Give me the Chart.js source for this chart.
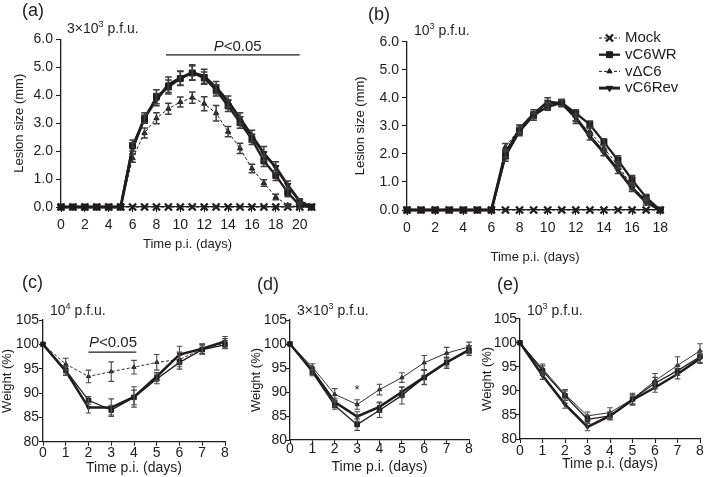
<!DOCTYPE html>
<html>
<head>
<meta charset="utf-8">
<script src="https://cdn.jsdelivr.net/npm/chart.js@4.4.1/dist/chart.umd.min.js"></script>
<style>
  body { margin: 0; background: #fff; }
  #fig { position: relative; width: 708px; height: 477px; font-family: 'Liberation Sans', Arial, sans-serif; color: #231f20; }
  canvas { position: absolute; }
  .lbl { position: absolute; font-size: 18px; line-height: 1; }
  .dose { position: absolute; font-size: 14px; line-height: 1; white-space: nowrap; }
  .dose sup { font-size: 9px; vertical-align: 6px; line-height: 0; }
</style>
</head>
<body>
<div id="fig">
  <canvas id="chartA" width="345" height="262" style="left:0;top:0"></canvas>
  <canvas id="chartB" width="363" height="265" style="left:345px;top:0"></canvas>
  <canvas id="chartC" width="240" height="212" style="left:0;top:265px"></canvas>
  <canvas id="chartD" width="235" height="212" style="left:240px;top:265px"></canvas>
  <canvas id="chartE" width="233" height="212" style="left:475px;top:265px"></canvas>

  <div class="lbl" style="left:22px;top:1px">(a)</div>
  <div class="lbl" style="left:368px;top:5px">(b)</div>
  <div class="lbl" style="left:22px;top:273px">(c)</div>
  <div class="lbl" style="left:257px;top:275px">(d)</div>
  <div class="lbl" style="left:497px;top:275px">(e)</div>

  <div class="dose" style="left:67px;top:21px">3×10<sup>3</sup> p.f.u.</div>
  <div class="dose" style="left:414px;top:23px">10<sup>3</sup> p.f.u.</div>
  <div class="dose" style="left:50px;top:303px">10<sup>4</sup> p.f.u.</div>
  <div class="dose" style="left:297px;top:303px">3×10<sup>3</sup> p.f.u.</div>
  <div class="dose" style="left:527px;top:303px">10<sup>3</sup> p.f.u.</div>
</div>

<script>
// (a) lesion size, 3x10^3 p.f.u.
const daysA = [0, 1, 2, 3, 4, 5, 6, 7, 8, 9, 10, 11, 12, 13, 14, 15, 16, 17, 18, 19, 20, 21]
const mockA = [0, 0, 0, 0, 0, 0, 0, 0, 0, 0, 0, 0, 0, 0, 0, 0, 0, 0, 0, 0, 0, 0]
const wrA = [0, 0, 0, 0, 0, 0, 2.2, 3.15, 3.95, 4.3, 4.6, 4.8, 4.62, 4.18, 3.62, 3.02, 2.42, 1.65, 1.13, 0.52, 0.06, 0]
const dc6A = [0, 0, 0, 0, 0, 0, 1.75, 2.65, 3.18, 3.52, 3.76, 3.92, 3.7, 3.36, 2.7, 2.1, 1.38, 0.86, 0.36, 0.06, 0, 0]
const revA = [0, 0, 0, 0, 0, 0, 2.1, 3.2, 3.85, 4.38, 4.62, 4.82, 4.68, 4.28, 3.78, 3.18, 2.55, 1.92, 1.42, 0.78, 0.2, 0]
const wrAErr = [0, 0, 0, 0, 0, 0, 0.2, 0.15, 0.25, 0.25, 0.25, 0.25, 0.22, 0.2, 0.2, 0.2, 0.18, 0.2, 0.18, 0.15, 0.1, 0]
const dc6AErr = [0, 0, 0, 0, 0, 0, 0.15, 0.18, 0.2, 0.2, 0.18, 0.2, 0.25, 0.28, 0.18, 0.18, 0.15, 0.12, 0.1, 0.05, 0, 0]
const revAErr = [0, 0, 0, 0, 0, 0, 0.2, 0.18, 0.22, 0.28, 0.25, 0.28, 0.25, 0.22, 0.2, 0.2, 0.2, 0.25, 0.2, 0.15, 0.1, 0]
const xTicksA = [0, 2, 4, 6, 8, 10, 12, 14, 16, 18, 20]

// (b) lesion size, 10^3 p.f.u.
const daysB = [0, 1, 2, 3, 4, 5, 6, 7, 8, 9, 10, 11, 12, 13, 14, 15, 16, 17, 18]
const mockB = [0, 0, 0, 0, 0, 0, 0, 0, 0, 0, 0, 0, 0, 0, 0, 0, 0, 0, 0]
const wrB = [0, 0, 0, 0, 0, 0, 0, 1.92, 2.8, 3.38, 3.68, 3.82, 3.45, 3.05, 2.42, 1.78, 1.08, 0.45, 0]
const dc6B = [0, 0, 0, 0, 0, 0, 0, 2.25, 2.9, 3.32, 3.72, 3.82, 3.2, 2.8, 2.2, 1.6, 0.85, 0.35, 0]
const revB = [0, 0, 0, 0, 0, 0, 0, 2.02, 2.88, 3.42, 3.85, 3.8, 3.3, 2.62, 2.05, 1.42, 0.78, 0.28, 0]
const wrBErr = [0, 0, 0, 0, 0, 0, 0, 0.18, 0.15, 0.12, 0.12, 0.12, 0.12, 0.12, 0.12, 0.15, 0.15, 0.1, 0]
const dc6BErr = [0, 0, 0, 0, 0, 0, 0, 0.12, 0.12, 0.12, 0.12, 0.12, 0.12, 0.12, 0.12, 0.12, 0.12, 0.1, 0]
const revBErr = [0, 0, 0, 0, 0, 0, 0, 0.15, 0.15, 0.15, 0.15, 0.12, 0.12, 0.12, 0.12, 0.12, 0.12, 0.1, 0]
const xTicksB = [0, 2, 4, 6, 8, 10, 12, 14, 16, 18]
const lesionTicks = [0, 1, 2, 3, 4, 5, 6]

// (c)-(e) weight
const daysW = [0, 1, 2, 3, 4, 5, 6, 7, 8]
const weightTicks = [80, 85, 90, 95, 100, 105]

const wrC = [100, 94.7, 88.5, 86.5, 89.1, 92.9, 96.3, 98.9, 99.9]
const dc6C = [100, 95.95, 93.4, 94.4, 95.3, 96.3, 96.9, 99.0, 100.2]
const revC = [100, 94.5, 87.0, 87.0, 89.2, 93.4, 97.9, 99.1, 100.6]
const wrCErr = [0, 0.8, 0.8, 1.0, 1.5, 1.0, 1.4, 0.8, 0.8]
const dc6CErr = [0, 1.2, 1.3, 2.0, 1.4, 1.6, 1.5, 1.0, 1.0]
const revCErr = [0, 0.9, 1.1, 1.8, 2.1, 0.8, 1.7, 1.0, 1.0]

const wrD = [100, 94.1, 87.2, 83.2, 86.2, 89.3, 93.0, 96.1, 98.6]
const dc6D = [100, 95.2, 89.5, 87.4, 90.5, 93.0, 96.1, 98.1, 99.4]
const revD = [100, 94.5, 87.9, 84.9, 86.9, 90.0, 93.1, 96.2, 98.8]
const wrDErr = [0, 0.7, 0.8, 1.2, 1.5, 1.8, 1.5, 1.2, 1.0]
const dc6DErr = [0, 0.7, 1.2, 1.0, 1.1, 1.0, 1.5, 1.2, 1.0]
const revDErr = [0, 0.7, 0.8, 1.0, 1.0, 1.0, 1.5, 1.0, 0.8]

const wrE = [100, 94.2, 89.0, 84.1, 84.8, 88.3, 91.6, 94.2, 97.1]
const dc6E = [100, 94.6, 89.3, 84.8, 85.5, 88.3, 92.1, 95.3, 98.3]
const revE = [100, 93.2, 87.2, 82.5, 84.8, 88.1, 90.7, 93.5, 96.7]
const wrEErr = [0, 1.0, 1.0, 0.8, 0.8, 1.0, 1.2, 1.0, 1.2]
const dc6EErr = [0, 1.0, 1.0, 0.8, 1.0, 1.2, 1.5, 1.8, 1.5]
const revEErr = [0, 0.8, 0.8, 0.8, 0.8, 1.0, 1.0, 1.0, 1.0]

const FONT = "'Liberation Sans', Arial, sans-serif"
const INK = '#1e1c1d'

// error bars drawn from each dataset's `errors` array
const errorBars = {
  id: 'errorBars',
  afterDatasetsDraw(chart, args, opts) {
    const { ctx, scales: { x, y } } = chart
    ctx.save()
    ctx.strokeStyle = opts.color
    ctx.lineWidth = opts.width
    chart.data.datasets.forEach(ds => {
      if (!ds.errors) return
      ds.data.forEach((p, i) => {
        const e = ds.errors[i]
        if (!e) return
        const px = x.getPixelForValue(p.x)
        const top = y.getPixelForValue(p.y + e)
        const bot = y.getPixelForValue(p.y - e)
        ctx.beginPath()
        ctx.moveTo(px, top)
        ctx.lineTo(px, bot)
        ctx.moveTo(px - opts.cap, top)
        ctx.lineTo(px + opts.cap, top)
        ctx.moveTo(px - opts.cap, bot)
        ctx.lineTo(px + opts.cap, bot)
        ctx.stroke()
      })
    })
    ctx.restore()
  },
}

// P<0.05 bars and asterisks
const sigMarks = {
  id: 'sigMarks',
  afterDraw(chart, args, opts) {
    const { ctx, scales: { x, y } } = chart
    ctx.save()
    ctx.fillStyle = INK
    ctx.strokeStyle = INK
    if (opts.bar) {
      const b = opts.bar
      ctx.lineWidth = 1.1
      ctx.beginPath()
      ctx.moveTo(x.getPixelForValue(b.from), y.getPixelForValue(b.y))
      ctx.lineTo(x.getPixelForValue(b.to), y.getPixelForValue(b.y))
      ctx.stroke()
      ctx.textBaseline = 'middle'
      ctx.font = `italic 15px ${FONT}`
      const wP = ctx.measureText('P').width
      ctx.font = `15px ${FONT}`
      const wR = ctx.measureText('<0.05').width
      const left = x.getPixelForValue(b.textX) - (wP + wR) / 2
      const ty = y.getPixelForValue(b.textY)
      ctx.font = `italic 15px ${FONT}`
      ctx.fillText('P', left, ty)
      ctx.font = `15px ${FONT}`
      ctx.fillText('<0.05', left + wP, ty)
    }
    if (opts.star) {
      ctx.font = `13px ${FONT}`
      ctx.textAlign = 'center'
      ctx.textBaseline = 'middle'
      ctx.fillText('*', x.getPixelForValue(opts.star.x), y.getPixelForValue(opts.star.y))
    }
    ctx.restore()
  },
}

Chart.register(errorBars, sigMarks)

// legend of panel (b)
const legendB = {
  id: 'legendB',
  afterDraw(chart) {
    const { ctx } = chart
    ctx.save()
    ctx.font = `15px ${FONT}`
    ctx.textBaseline = 'middle'
    chart.data.datasets.forEach((ds, i) => {
      const y = 38 + i * 16.7
      const x0 = 254
      const x1 = 275
      ctx.strokeStyle = INK
      ctx.fillStyle = INK
      ctx.lineWidth = ds.borderWidth
      ctx.setLineDash(ds.borderDash || [])
      ctx.beginPath()
      ctx.moveTo(x0, y)
      ctx.lineTo(x1, y)
      ctx.stroke()
      ctx.setLineDash([])
      ctx.lineWidth = ds.pointBorderWidth || 1
      Chart.helpers.drawPoint(ctx, {
        pointStyle: ds.pointStyle,
        radius: ds.pointRadius,
        rotation: ds.pointRotation || 0,
        borderWidth: ds.pointBorderWidth || 1,
      }, (x0 + x1) / 2, y)
      ctx.fillText(ds.label, 280, y)
    })
    ctx.restore()
  },
}

function toPoints(xs, ys) {
  return xs.map((x, i) => ({ x, y: ys[i] }))
}

function series(label, xs, ys, errors, style) {
  return Object.assign({
    label,
    data: toPoints(xs, ys),
    errors,
    borderColor: INK,
    backgroundColor: INK,
    pointBackgroundColor: INK,
    pointBorderColor: INK,
    tension: 0,
    fill: false,
    clip: false,
  }, style)
}

const lesionStyle = {
  mock: { borderWidth: 1, borderDash: [3, 2], pointStyle: 'crossRot', pointRadius: 5, pointBorderWidth: 2.3 },
  wr: { borderWidth: 2.3, pointStyle: 'rect', pointRadius: 4.2, pointBorderWidth: 1 },
  dc6: { borderWidth: 1, borderDash: [3, 2], pointStyle: 'triangle', pointRadius: 3, pointBorderWidth: 1 },
  rev: { borderWidth: 2.9, pointStyle: 'triangle', pointRotation: 180, pointRadius: 3.6, pointBorderWidth: 1 },
}

function weightStyle(dash) {
  return {
    wr: { borderWidth: 1.3, pointStyle: 'rect', pointRadius: 3.2, pointBorderWidth: 1 },
    dc6: { borderWidth: 0.9, borderDash: dash, pointStyle: 'triangle', pointRadius: 2.4, pointBorderWidth: 1 },
    rev: { borderWidth: 2.5, pointStyle: 'triangle', pointRotation: 180, pointRadius: 2.6, pointBorderWidth: 1 },
  }
}

function fixSize(size, horizontal) {
  return scale => {
    if (horizontal) scale.height = size
    else scale.width = size
    scale.paddingLeft = 0
    scale.paddingRight = 0
    scale.paddingTop = 0
    scale.paddingBottom = 0
  }
}

function makeChart(id, p) {
  return new Chart(document.getElementById(id), {
    type: 'line',
    data: { datasets: p.datasets },
    options: {
      responsive: false,
      animation: false,
      events: [],
      layout: { padding: p.pad },
      plugins: {
        legend: { display: false },
        tooltip: { enabled: false },
        errorBars: p.err,
        sigMarks: p.sig || {},
      },
      scales: {
        x: {
          type: 'linear',
          min: 0,
          max: p.xMax,
          afterBuildTicks: s => { s.ticks = p.xTicks.map(v => ({ value: v })) },
          afterFit: fixSize(p.xH, true),
          grid: { display: true, drawOnChartArea: false, tickLength: p.tick, tickColor: INK, tickWidth: 1.1 },
          border: { color: INK, width: 1.3 },
          ticks: { color: INK, font: { family: FONT, size: p.tickSize }, padding: p.xPad, maxRotation: 0, autoSkip: false },
          title: { display: true, text: 'Time p.i. (days)', color: INK, font: { family: FONT, size: p.xTitleSize }, padding: { top: 0, bottom: p.xTitlePad } },
        },
        y: {
          type: 'linear',
          min: p.yTicks[0],
          max: p.yTicks[p.yTicks.length - 1],
          afterBuildTicks: s => { s.ticks = p.yTicks.map(v => ({ value: v })) },
          afterFit: fixSize(p.yW, false),
          grid: { display: true, drawOnChartArea: false, tickLength: p.tick, tickColor: INK, tickWidth: 1.1 },
          border: { color: INK, width: 1.3 },
          ticks: { color: INK, font: { family: FONT, size: p.tickSize }, padding: p.yPad, callback: p.fmt },
          title: { display: true, text: p.yTitle, color: INK, font: { family: FONT, size: p.yTitleSize }, padding: { top: p.yTitlePad, bottom: 0 } },
        },
      },
    },
    plugins: p.extra || [],
  })
}

const lesionFmt = v => v.toFixed(1)
const weightFmt = v => String(v)
const lesionErr = { color: '#3c3c3c', width: 1.5, cap: 3.3 }
const weightErr = { color: '#4a4a4a', width: 1.1, cap: 2.8 }

makeChart('chartA', {
  datasets: [
    series('Mock', daysA, mockA, null, lesionStyle.mock),
    series('vC6WR', daysA, wrA, wrAErr, lesionStyle.wr),
    series('v\u0394C6', daysA, dc6A, dc6AErr, lesionStyle.dc6),
    series('vC6Rev', daysA, revA, revAErr, lesionStyle.rev),
  ],
  pad: { top: 39.5, right: 31, left: 0, bottom: 0 },
  yW: 61, xH: 55, xMax: 21.2, xTicks: xTicksA, yTicks: lesionTicks,
  tick: 5, xPad: 4.4, yPad: 3, tickSize: 14, xTitleSize: 13, yTitleSize: 13,
  xTitlePad: 10.2, yTitlePad: 11.2, yTitle: 'Lesion size (mm)', fmt: lesionFmt,
  err: lesionErr,
  sig: { bar: { from: 8.8, to: 20, y: 5.45, textX: 14.8, textY: 5.72 } },
})

makeChart('chartB', {
  datasets: [
    series('Mock', daysB, mockB, null, lesionStyle.mock),
    series('vC6WR', daysB, wrB, wrBErr, lesionStyle.wr),
    series('v\u0394C6', daysB, dc6B, dc6BErr, lesionStyle.dc6),
    series('vC6Rev', daysB, revB, revBErr, lesionStyle.rev),
  ],
  pad: { top: 41.7, right: 45, left: 0, bottom: 0 },
  yW: 62, xH: 55, xMax: 18.2, xTicks: xTicksB, yTicks: lesionTicks,
  tick: 5, xPad: 4.4, yPad: 3, tickSize: 14, xTitleSize: 13, yTitleSize: 13,
  xTitlePad: 0.2, yTitlePad: 7.2, yTitle: 'Lesion size (mm)', fmt: lesionFmt,
  err: lesionErr,
  extra: [legendB],
})

const styleC = weightStyle([3, 2])
makeChart('chartC', {
  datasets: [
    series('vC6WR', daysW, wrC, wrCErr, styleC.wr),
    series('v\u0394C6', daysW, dc6C, dc6CErr, styleC.dc6),
    series('vC6Rev', daysW, revC, revCErr, styleC.rev),
  ],
  pad: { top: 55, right: 15, left: 0, bottom: 0 },
  yW: 43, xH: 35.3, xMax: 8, xTicks: daysW, yTicks: weightTicks,
  tick: 4, xPad: -0.6, yPad: 0, tickSize: 14, xTitleSize: 14, yTitleSize: 13,
  xTitlePad: 0, yTitlePad: 0, yTitle: 'Weight (%)', fmt: weightFmt,
  err: weightErr,
  sig: { bar: { from: 2, to: 4.1, y: 98.4, textX: 3.08, textY: 100.4 } },
})

const styleDE = weightStyle([])
makeChart('chartD', {
  datasets: [
    series('vC6WR', daysW, wrD, wrDErr, styleDE.wr),
    series('v\u0394C6', daysW, dc6D, dc6DErr, styleDE.dc6),
    series('vC6Rev', daysW, revD, revDErr, styleDE.rev),
  ],
  pad: { top: 55, right: 6, left: 0, bottom: 0 },
  yW: 50, xH: 37, xMax: 8, xTicks: daysW, yTicks: weightTicks,
  tick: 4, xPad: -3.6, yPad: -1, tickSize: 14, xTitleSize: 14, yTitleSize: 13,
  xTitlePad: 1, yTitlePad: 9, yTitle: 'Weight (%)', fmt: weightFmt,
  err: weightErr,
  sig: { star: { x: 3, y: 90.4 } },
})

makeChart('chartE', {
  datasets: [
    series('vC6WR', daysW, wrE, wrEErr, styleDE.wr),
    series('v\u0394C6', daysW, dc6E, dc6EErr, styleDE.dc6),
    series('vC6Rev', daysW, revE, revEErr, styleDE.rev),
  ],
  pad: { top: 53.7, right: 8, left: 0, bottom: 0 },
  yW: 45, xH: 38, xMax: 8, xTicks: daysW, yTicks: weightTicks,
  tick: 4, xPad: -0.6, yPad: -1, tickSize: 14, xTitleSize: 14, yTitleSize: 13,
  xTitlePad: 4, yTitlePad: 5, yTitle: 'Weight (%)', fmt: weightFmt,
  err: weightErr,
})
</script>
</body>
</html>
